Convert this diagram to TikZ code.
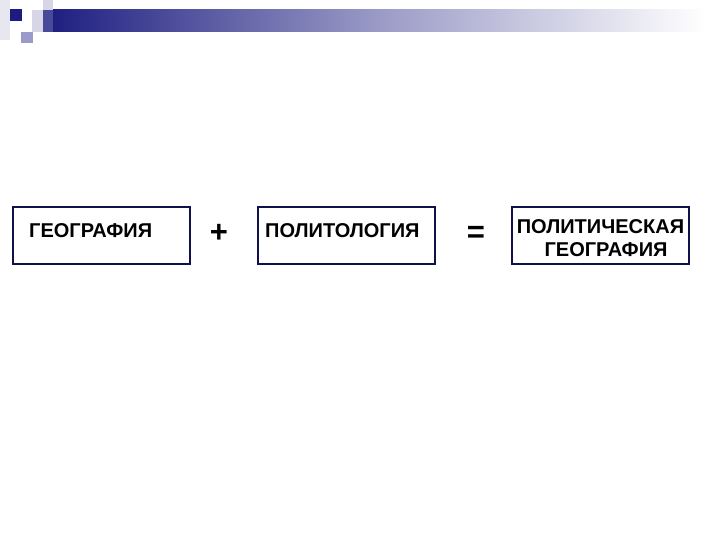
\documentclass[tikz,border=0pt]{standalone}
\usepackage{fontspec}
\setmainfont{Liberation Sans}
\begin{document}
\begin{tikzpicture}[x=1pt,y=-1pt,
  termbox/.style={draw=boxnavy,line width=1.6pt,fill=white,minimum width=177pt,minimum height=57pt,inner sep=0pt},
  termtxt/.style={font=\fontsize{20}{23}\selectfont\bfseries,inner sep=0pt,anchor=base west},
  optxt/.style={font=\fontsize{31}{31}\selectfont\bfseries,inner sep=0pt}]
\definecolor{boxnavy}{HTML}{10104A}
\definecolor{decnavy}{HTML}{1C1C80}
\definecolor{declav}{HTML}{9A9ACC}
\definecolor{declight}{HTML}{D6D6E6}
\useasboundingbox (0,0) rectangle (720,540);
\fill[white] (0,0) rectangle (720,540);
% decoration
\fill[declight!60] (0,0) rectangle (10,40);
\shade[left color=decnavy,right color=white,middle color=decnavy!45!white] (43,10) rectangle (705,32);
\fill[declight] (43,0) rectangle (53,10);
\fill[declight] (32,10) rectangle (43,32);
\fill[decnavy!80!white] (43,10) rectangle (53,32);
\fill[decnavy] (10,9) rectangle (22,21);
\fill[declav] (21,32) rectangle (33,43);
% boxes
\node[termbox] (b1) at (101.5,235.5) {};
\node[termbox] (b2) at (346.5,235.5) {};
\node[termbox] (b3) at (600.5,235.5) {};
\node[termtxt] (t1) at (29,237) {ГЕОГРАФИЯ};
\node[termtxt] (t2) at (265,237) {ПОЛИТОЛОГИЯ};
\node[font=\fontsize{20}{23}\selectfont\bfseries,align=center,inner sep=0pt] (t3) at ([yshift=-3pt]b3.center) {ПОЛИТИЧЕСКАЯ\\ \ \ ГЕОГРАФИЯ};
\node[optxt] (plus) at (219,233) {+};
\node[optxt] (eq) at (476,234) {=};
\end{tikzpicture}
\end{document}
